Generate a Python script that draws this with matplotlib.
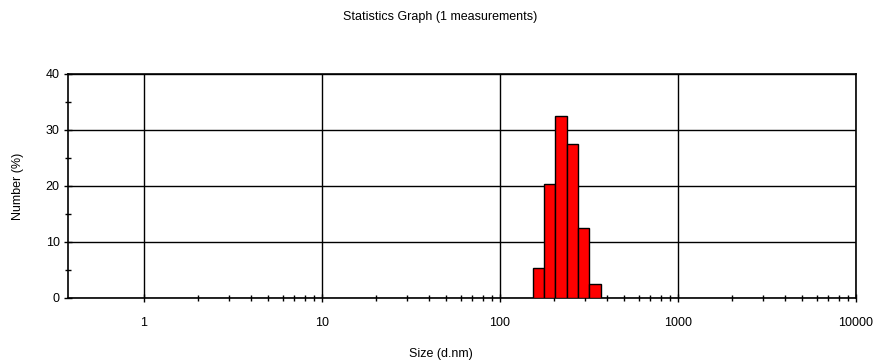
import numpy as np
import matplotlib.pyplot as plt
from matplotlib.ticker import FixedLocator, NullFormatter

plt.rcParams['font.family'] = ['Liberation Sans', 'DejaVu Sans']

# bin centres (d.nm) and number %
sizes = [164.2, 190.1, 220.2, 255.0, 295.3, 342.0]
number = [5.3, 20.3, 32.5, 27.5, 12.5, 2.5]
xticks = [1, 10, 100, 1000, 10000]
xticklabels = ["1", "10", "100", "1000", "10000"]
yticks = [0, 10, 20, 30, 40]

step = 10 ** (np.log10(10000 / 0.4) / 70)
sizes = np.array(sizes)
left = sizes / np.sqrt(step)
width = sizes * np.sqrt(step) - left

fig = plt.figure(figsize=(8.81, 3.63), dpi=100)
ax = fig.add_axes([68 / 881, 1 - 298 / 363, 788 / 881, 224 / 363])

ax.bar(left, number, width=width, align='edge', color='#ff0000',
       edgecolor='black', linewidth=1, zorder=3)

ax.set_xscale('log')
ax.set_xlim(0.374, 10000)
ax.set_ylim(0, 40)
ax.xaxis.set_major_locator(FixedLocator(xticks))
ax.set_xticklabels(xticklabels)
minor = [k * 10.0 ** n for n in range(4) for k in range(2, 10)]
ax.xaxis.set_minor_locator(FixedLocator(minor))
ax.xaxis.set_minor_formatter(NullFormatter())
ax.set_yticks(yticks)
ax.set_yticks([5, 15, 25, 35], minor=True)

ax.grid(True, which='major', color='black', linewidth=1, zorder=0)
ax.set_axisbelow(True)
for s in ax.spines.values():
    s.set_linewidth(1.2)

ax.tick_params(which='major', direction='inout', length=6, width=1,
               labelsize=9, pad=11)
ax.tick_params(which='minor', direction='inout', length=5, width=1)
ax.tick_params(axis='y', pad=3)

fig.text(0.5, 1 - 17 / 363, "Statistics Graph (1 measurements)", fontsize=9,
         ha='center', va='center')
fig.text(0.5, 1 - 354 / 363, "Size (d.nm)", fontsize=9, ha='center', va='center')
fig.text(18 / 881, 1 - 186 / 363, "Number (%)", fontsize=9, ha='center',
         va='center', rotation=90)

fig.savefig("out.png", dpi=100)
